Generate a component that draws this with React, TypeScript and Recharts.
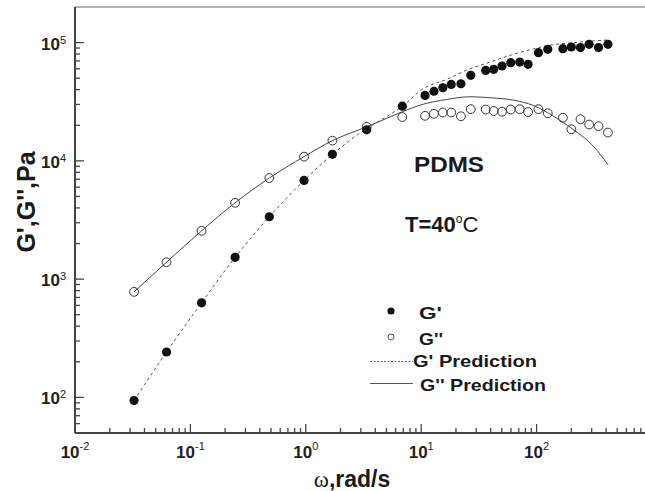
import React from 'react';
import { ComposedChart, Line, Scatter, XAxis, YAxis, ReferenceLine, Legend } from 'recharts';

const FONT = '"Liberation Sans", Arial, Helvetica, sans-serif';

// low-frequency sweep (rad/s, Pa)
const omegaLow = [0.0325, 0.0621, 0.125, 0.244, 0.483, 0.966, 1.7, 3.37];
const gPrimeLow = [94, 242, 631, 1530, 3370, 6830, 11350, 18300];
const gDoubleLow = [781, 1390, 2560, 4420, 7160, 10860, 14830, 19400];

// high-frequency sweep
const omegaHigh = [6.86, 10.8, 12.9, 15.4, 18.2, 22.1, 26.9, 36.2, 42.5, 50.2, 59.7, 71.4, 84.4, 103.7, 125, 169, 200, 240, 285, 344, 415];
const gPrimeHigh = [28980, 35730, 38800, 41500, 44260, 44870, 52870, 58210, 59400, 63400, 67700, 68440, 65460, 82200, 87700, 88900, 91780, 90700, 96740, 90700, 96740];
const gDoubleHigh = [23480, 24040, 25000, 25640, 25640, 23830, 27370, 27180, 26420, 26040, 27180, 27370, 25860, 27370, 25290, 23170, 18500, 22500, 20290, 19630, 17350];

// model prediction
const predOmega = [0.0325, 0.0621, 0.125, 0.244, 0.483, 0.966, 1.7, 3.37, 4.4, 6.86, 10.4, 16.6, 26.5, 39.5, 62.9, 93.8, 140, 208, 311, 415];
const predGPrime = [94, 242, 631, 1530, 3370, 6830, 11350, 18760, 21930, 28980, 40740, 48870, 60130, 68370, 79560, 88460, 96170, 99600, 103300, 105200];
const predGDouble = [781, 1390, 2560, 4420, 7160, 10860, 14830, 19400, 21630, 26050, 30120, 33040, 34840, 34180, 32610, 29390, 23850, 18390, 13290, 9290];

const xDecades = [0.01, 0.1, 1, 10, 100];
const yDecades = [100, 1000, 10000];
const minors = [1, 2, 3, 4, 5, 6, 7, 8, 9];

const xTicks = xDecades.flatMap(d => minors.map(m => +(d * m).toPrecision(3)));
const yTicks = [60, 70, 80, 90, ...yDecades.flatMap(d => minors.map(m => d * m)), 100000];

const zip = (xs: number[], ys: number[]) => xs.map((x, i) => ({ x, y: ys[i] }));

const gPrimeData = [...zip(omegaLow, gPrimeLow), ...zip(omegaHigh, gPrimeHigh)];
const gDoubleData = [...zip(omegaLow, gDoubleLow), ...zip(omegaHigh, gDoubleHigh)];
const predPrimeData = zip(predOmega, predGPrime);
const predDoubleData = zip(predOmega, predGDouble);

function decadeOf(v: number) {
  const e = Math.log10(v);
  return Math.abs(e - Math.round(e)) < 1e-6 ? Math.round(e) : null;
}

function XTick(props: any) {
  const { x, y, payload } = props;
  const e = decadeOf(payload.value);
  return (
    <g>
      <line x1={x} x2={x} y1={y} y2={y - (e !== null ? 9 : 5)} stroke="#444" strokeWidth={1.3} />
      {e !== null && (
        <text x={x} y={y + 25} textAnchor="middle" fontFamily={FONT} fontWeight="bold" fontSize={17} fill="#222">
          <tspan>10</tspan>
          <tspan dy={-8} fontSize={11} fontWeight="normal">{e}</tspan>
        </text>
      )}
    </g>
  );
}

function YTick(props: any) {
  const { x, y, payload } = props;
  const e = decadeOf(payload.value);
  return (
    <g>
      <line x1={x} x2={x + (e !== null ? 9 : 5)} y1={y} y2={y} stroke="#444" strokeWidth={1.3} />
      {e !== null && (
        <text x={x - 9} y={y + 7} textAnchor="end" fontFamily={FONT} fontWeight="bold" fontSize={17} fill="#222">
          <tspan>10</tspan>
          <tspan dy={-6} fontSize={11} fontWeight="normal">{e}</tspan>
        </text>
      )}
    </g>
  );
}

const FilledDot = (p: any) => <circle cx={p.cx} cy={p.cy} r={4.6} fill="#111" />;
const OpenDot = (p: any) => <circle cx={p.cx} cy={p.cy} r={4.4} fill="none" stroke="#333" strokeWidth={1} />;

function LegendBox() {
  const t = { fontFamily: FONT, fontWeight: 'bold' as const, fontSize: 17, fill: '#1a1a1a' };
  return (
    <svg width={200} height={105} style={{ display: 'block' }}>
      <circle cx={26} cy={16} r={3.6} fill="#111" />
      <text x={54} y={24} textLength={23} lengthAdjust="spacingAndGlyphs" {...t}>G'</text>
      <circle cx={26} cy={42} r={3} fill="none" stroke="#555" strokeWidth={1} />
      <text x={54} y={50} textLength={24} lengthAdjust="spacingAndGlyphs" {...t}>G''</text>
      <line x1={5} x2={48} y1={66.5} y2={66.5} stroke="#666" strokeWidth={1} strokeDasharray="2 1.5" />
      <text x={48} y={72} textLength={124} lengthAdjust="spacingAndGlyphs" {...t}>G' Prediction</text>
      <line x1={5} x2={48} y1={88.5} y2={88.5} stroke="#555" strokeWidth={1} />
      <text x={55} y={96} textLength={126} lengthAdjust="spacingAndGlyphs" {...t}>G'' Prediction</text>
    </svg>
  );
}

export default function App() {
  return (
    <div style={{ position: 'absolute', left: 0, top: 0, width: 645, height: 491, overflow: 'hidden', background: '#fff' }}>
      <ComposedChart width={660} height={491} margin={{ top: 7, right: 8, bottom: 0, left: 0 }}>
        <XAxis
          dataKey="x"
          type="number"
          scale="log"
          domain={[0.01, 1000]}
          allowDataOverflow
          ticks={xTicks}
          interval={0}
          height={58}
          tickSize={0}
          tickMargin={0}
          tickLine={false}
          tick={<XTick />}
          axisLine={{ stroke: '#444', strokeWidth: 2 }}
        />
        <YAxis
          dataKey="y"
          type="number"
          scale="log"
          domain={[50, 200000]}
          allowDataOverflow
          ticks={yTicks}
          interval={0}
          width={75}
          tickSize={0}
          tickMargin={0}
          tickLine={false}
          tick={<YTick />}
          axisLine={{ stroke: '#444', strokeWidth: 2 }}
        />
        <ReferenceLine y={200000} stroke="#999" strokeWidth={1.5} />
        <Line data={predPrimeData} dataKey="y" type="monotone" stroke="#555" strokeWidth={1} strokeDasharray="3 3" dot={false} isAnimationActive={false} />
        <Line data={predDoubleData} dataKey="y" type="monotone" stroke="#444" strokeWidth={1} dot={false} isAnimationActive={false} />
        <Scatter data={gPrimeData} dataKey="y" shape={FilledDot} isAnimationActive={false} />
        <Scatter data={gDoubleData} dataKey="y" shape={OpenDot} isAnimationActive={false} />
        <Legend
          layout="vertical"
          align="center"
          verticalAlign="middle"
          content={() => <LegendBox />}
          wrapperStyle={{ position: 'absolute', left: 365, top: 295, width: 200, height: 105 }}
        />
        <text x={414} y={172} textLength={70} lengthAdjust="spacingAndGlyphs" fontFamily={FONT} fontWeight="bold" fontSize={22} fill="#1a1a1a">PDMS</text>
        <text x={405} y={232} fontFamily={FONT} fontSize={22} fill="#1a1a1a">
          <tspan fontWeight="bold">T=40</tspan>
          <tspan dy={-9} fontSize={12}>o</tspan>
          <tspan dy={9}>C</tspan>
        </text>
        <text x={352} y={487} textAnchor="middle" fontFamily={FONT} fontWeight="bold" fontSize={23} fill="#1a1a1a">
          <tspan fontFamily='"Liberation Serif", "Times New Roman", serif' fontWeight="normal">ω</tspan>,rad/s
        </text>
        <text x={35} y={202} transform="rotate(-90, 35, 202)" textAnchor="middle" fontFamily={FONT} fontWeight="bold" fontSize={25} fill="#1a1a1a">
          G',G'',Pa
        </text>
      </ComposedChart>
    </div>
  );
}
